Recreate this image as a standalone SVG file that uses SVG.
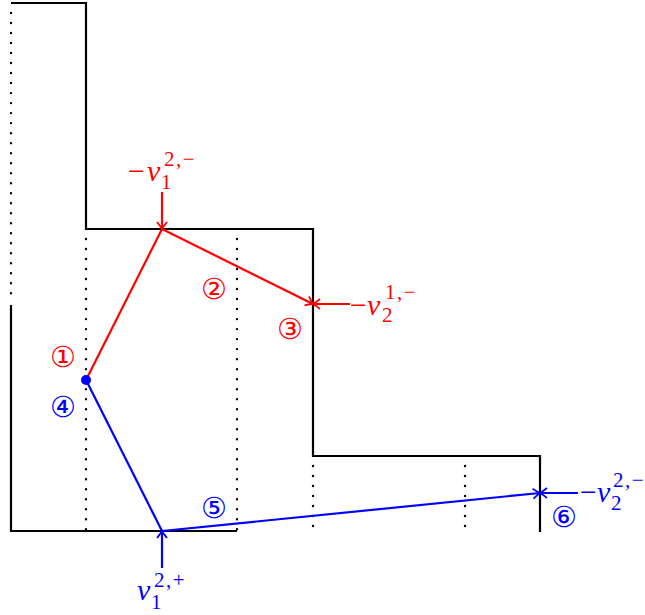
<svg xmlns="http://www.w3.org/2000/svg" width="645" height="615" viewBox="0 0 645 615">
<style>
.bd{fill:none;stroke:#000;stroke-width:2.2}
.dot{fill:none;stroke:#000;stroke-width:2.4;stroke-dasharray:0.01 10;stroke-linecap:round}
.r{stroke:#f00;stroke-width:2.2;fill:none}
.b{stroke:#00f;stroke-width:2.2;fill:none}
.lab{font-family:"Liberation Serif",serif;font-size:30px}
.sup{font-size:21px;font-style:normal;letter-spacing:1.5px}
.num{font-family:"DejaVu Sans",sans-serif;font-size:29px;text-anchor:middle;dominant-baseline:central}
</style>
<defs>
<marker id="ar" viewBox="-8 -6 10 12" markerWidth="10" markerHeight="12" refX="0" refY="0" orient="auto" markerUnits="userSpaceOnUse">
<path d="M-7,-5 Q-2,-1 0,0 Q-2,1 -7,5" fill="none" stroke="#f00" stroke-width="1.8"/>
</marker>
<marker id="ab" viewBox="-8 -6 10 12" markerWidth="10" markerHeight="12" refX="0" refY="0" orient="auto" markerUnits="userSpaceOnUse">
<path d="M-7,-5 Q-2,-1 0,0 Q-2,1 -7,5" fill="none" stroke="#00f" stroke-width="1.8"/>
</marker>
</defs>
<g id="boundary">
<path class="bd" d="M11,3 H86 V229 H313 V456 H540 V532"/>
<path class="bd" d="M11,305 V531 H237"/>
</g>
<g id="grid">
<path class="dot" d="M11,13 V300"/>
<path class="dot" d="M86,239 V531"/>
<path class="dot" d="M237,239 V531"/>
<path class="dot" d="M313,466 V531"/>
<path class="dot" d="M465,466 V531"/>
</g>
<g id="connectors">
<path class="r" d="M86,380 L162,229" />
<path class="r" d="M162,229 L313,304" marker-end="url(#ar)"/>
<path class="r" d="M162,192 V229" marker-end="url(#ar)"/>
<path class="r" d="M350,304 H313" marker-end="url(#ar)"/>
<path class="b" d="M86,380 L162,531"/>
<path class="b" d="M162,531 L540,493" marker-end="url(#ab)"/>
<path class="b" d="M162,568 V531" marker-end="url(#ab)"/>
<path class="b" d="M578,493 H540" marker-end="url(#ab)"/>
</g>
<g id="node-p">
<circle cx="86" cy="380" r="5" fill="#00f"/>
</g>
<g id="labels-red" fill="#f00">
<text class="lab" y="181"><tspan x="128">−</tspan><tspan x="147" font-style="italic">v</tspan><tspan class="sup" x="164" y="166">2,−</tspan><tspan class="sup" x="161" y="189">1</tspan></text>
<text class="lab" y="315"><tspan x="350">−</tspan><tspan x="367" font-style="italic">v</tspan><tspan class="sup" x="385" y="299">1,−</tspan><tspan class="sup" x="382" y="322">2</tspan></text>
<text class="num" x="63" y="357">①</text>
<text class="num" x="214" y="289">②</text>
<text class="num" x="290" y="329">③</text>
</g>
<g id="labels-blue" fill="#00f">
<text class="lab" y="600"><tspan x="137" font-style="italic">v</tspan><tspan class="sup" x="154" y="587">2,+</tspan><tspan class="sup" x="151" y="609">1</tspan></text>
<text class="lab" y="502"><tspan x="580">−</tspan><tspan x="597" font-style="italic">v</tspan><tspan class="sup" x="613" y="487" letter-spacing="0">2,−</tspan><tspan class="sup" x="611" y="510">2</tspan></text>
<text class="num" x="63" y="407">④</text>
<text class="num" x="214" y="508">⑤</text>
<text class="num" x="564" y="517">⑥</text>
</g>
</svg>
